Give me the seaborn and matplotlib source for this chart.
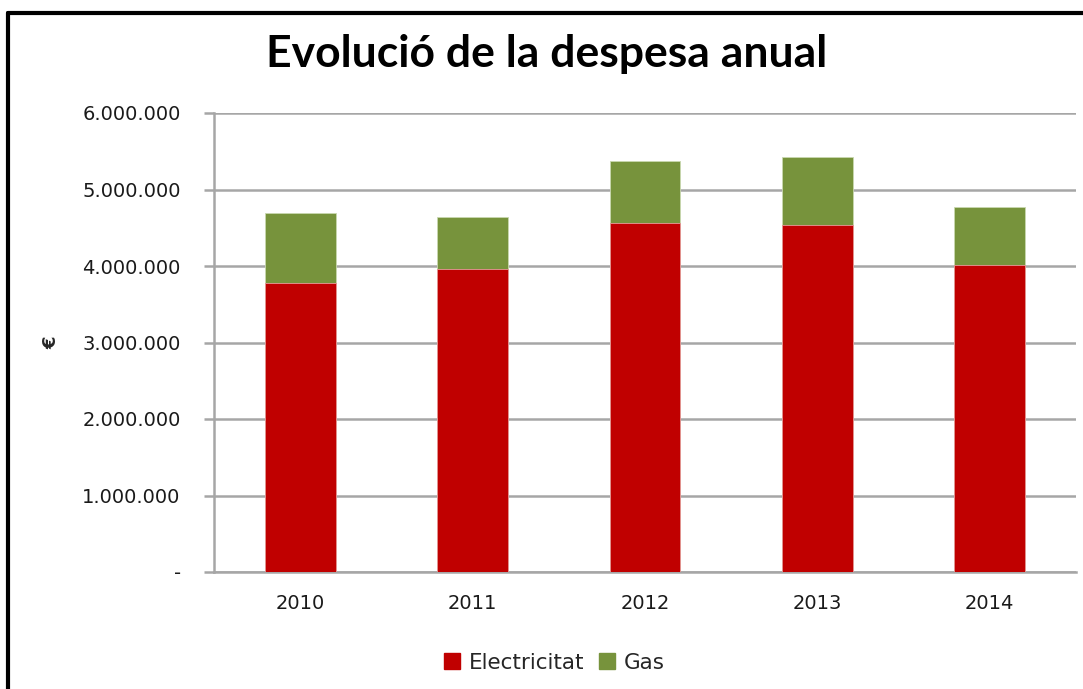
import matplotlib.pyplot as plt
import matplotlib.lines as mlines
import matplotlib.patches as mpatches
import pandas as pd
import seaborn as sns

anys = ["2010", "2011", "2012", "2013", "2014"]
electricitat = [3782000, 3961000, 4566000, 4540000, 4013000]
gas = [915000, 680000, 807000, 885000, 762000]
yticks = [0, 1000000, 2000000, 3000000, 4000000, 5000000, 6000000]
ytick_labels = ["-", "1.000.000", "2.000.000", "3.000.000", "4.000.000", "5.000.000", "6.000.000"]

color_elec = "#C00000"
color_gas = "#77933C"
grid_col = "#A6A6A6"

df = pd.DataFrame({"any": anys, "Electricitat": electricitat, "Gas": gas})
df["total"] = df["Electricitat"] + df["Gas"]

sns.set_style("white")
plt.rcParams["font.family"] = ["DejaVu Sans"]

fig = plt.figure(figsize=(10.83, 6.89), dpi=100)
ax = fig.add_axes([214 / 1083, 117 / 689, 862 / 1083, 459 / 689])

# total bar behind (gas on top), electricity in front
sns.barplot(data=df, x="any", y="total", color=color_gas, width=0.41,
            saturation=1, edgecolor="#c9d8b0", linewidth=0.6, ax=ax, zorder=3)
sns.barplot(data=df, x="any", y="Electricitat", color=color_elec, width=0.41,
            saturation=1, edgecolor="#e89a9a", linewidth=0.6, ax=ax, zorder=4)

ax.set_xlim(-0.5, 4.5)
ax.set_ylim(0, 6000000)
ax.set_yticks(yticks)
ax.set_yticklabels(ytick_labels, fontsize=14, color="#1a1a1a")
ax.yaxis.grid(True, color=grid_col, linewidth=1.8, zorder=0)
ax.set_axisbelow(True)

ax.tick_params(axis="x", length=0, pad=16, labelsize=14, labelcolor="#1a1a1a")
ax.set_xticks([i - 0.5 for i in range(6)], minor=True)
ax.tick_params(axis="x", which="minor", length=6, width=1.8, color=grid_col)
ax.tick_params(axis="y", length=7, width=1.8, color=grid_col, pad=17, left=True)

for s in ["top", "right"]:
    ax.spines[s].set_visible(False)
for s in ["left", "bottom"]:
    ax.spines[s].set_color(grid_col)
    ax.spines[s].set_linewidth(1.8)

ax.set_xlabel("")
ax.set_ylabel("€", fontsize=13, fontweight="bold")
ax.yaxis.set_label_coords(-0.178, 0.5)

fig.text(0.505, 0.922, "Evolució de la despesa anual", ha="center", va="center",
         fontsize=32, fontweight="bold", color="black", family=["Lato", "DejaVu Sans"])

handles = [mpatches.Patch(color=color_elec, label="Electricitat"),
           mpatches.Patch(color=color_gas, label="Gas")]
fig.legend(handles=handles, loc="center", bbox_to_anchor=(0.512, 0.038), ncol=2,
           frameon=False, fontsize=15.5, handlelength=0.75, handleheight=0.75,
           handletextpad=0.4, columnspacing=0.7)

# outer chart border (top and left visible)
fig.add_artist(mlines.Line2D([8 / 1083, 1.0], [1 - 13 / 689, 1 - 13 / 689],
                             color="black", linewidth=3, transform=fig.transFigure))
fig.add_artist(mlines.Line2D([8 / 1083, 8 / 1083], [0, 1 - 13 / 689],
                             color="black", linewidth=3, transform=fig.transFigure))

fig.savefig("out.png", dpi=100)
